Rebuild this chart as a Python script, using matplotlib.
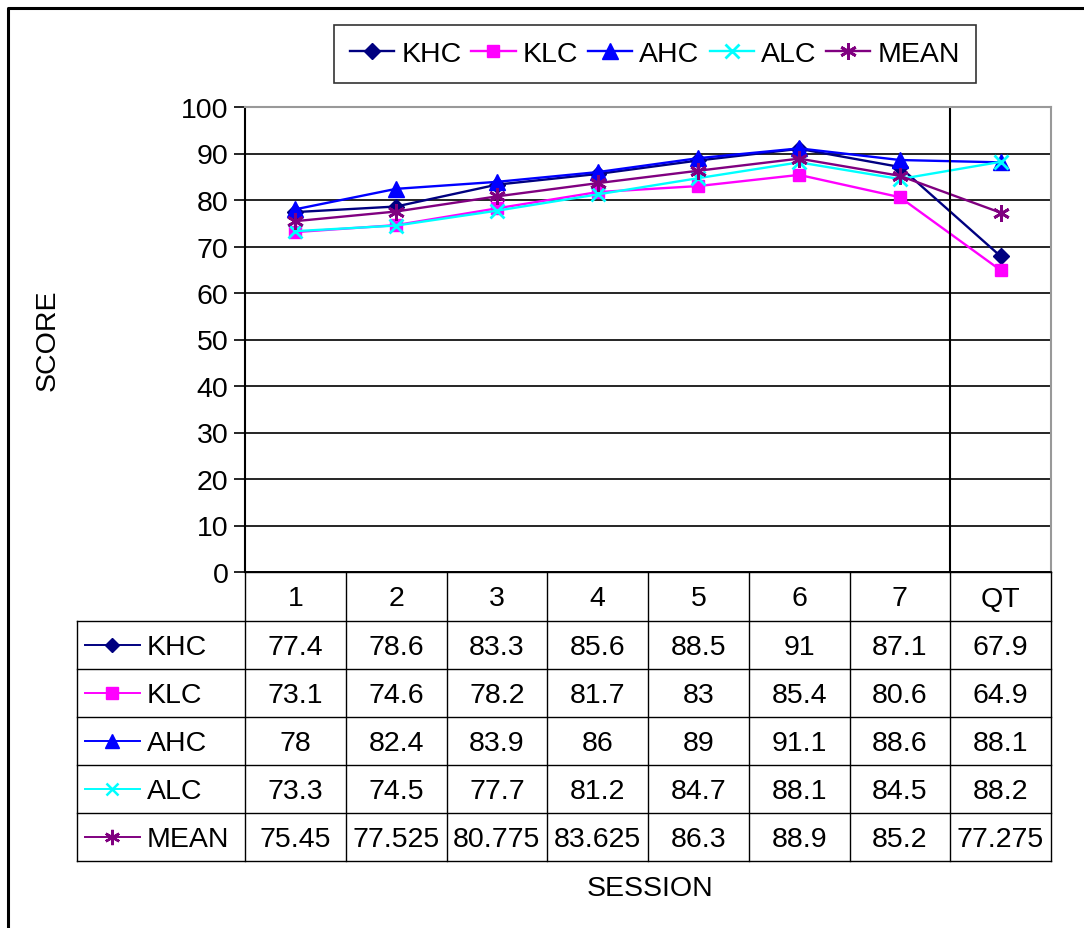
import numpy as np
import matplotlib
matplotlib.use("Agg")
from matplotlib import pyplot as plt
from matplotlib.lines import Line2D

plt.rcParams['font.family'] = ['Liberation Sans', 'DejaVu Sans']

sessions = ['1', '2', '3', '4', '5', '6', '7', 'QT']
khc = [77.4, 78.6, 83.3, 85.6, 88.5, 91, 87.1, 67.9]
klc = [73.1, 74.6, 78.2, 81.7, 83, 85.4, 80.6, 64.9]
ahc = [78, 82.4, 83.9, 86, 89, 91.1, 88.6, 88.1]
alc = [73.3, 74.5, 77.7, 81.2, 84.7, 88.1, 84.5, 88.2]
mean = [75.45, 77.525, 80.775, 83.625, 86.3, 88.9, 85.2, 77.275]
mean_txt = ['75.45', '77.525', '80.775', '83.625', '86.3', '88.9', '85.2', '77.275']

names = ['KHC', 'KLC', 'AHC', 'ALC', 'MEAN']
series = [khc, klc, ahc, alc, mean]
colors = ['#000080', '#FF00FF', '#0000FF', '#00FFFF', '#800080']
markers = ['D', 's', '^', 'x', (6, 2, 0)]
msizes = [8, 9, 11, 10, 12]

W, H = 1084, 929
fs = 20.5
fig = plt.figure(figsize=(W / 100, H / 100), dpi=100)

# layout in pixels
left, right, top, bottom = 245, 1051, 108, 573
row_h = 48
head_h = 49
tab_left = 77

def fx(x):
    return x / W

def fy(y):
    return 1 - y / H

ax = fig.add_axes([fx(left), fy(bottom), fx(right - left), (bottom - top) / H])
x = np.arange(len(sessions))
for s, n, c, m, ms in zip(series, names, colors, markers, msizes):
    ax.plot(x, s, color=c, marker=m, markersize=ms, linewidth=1.7,
            markeredgewidth=2 if m in ('x', (6, 2, 0)) else 1, label=n)

ax.set_xlim(-0.5, len(sessions) - 0.5)
ax.set_ylim(0, 100)
ax.set_yticks(np.arange(0, 101, 10))
ax.tick_params(axis='y', labelsize=fs, length=8, width=1.2, direction='out', pad=4)
ax.set_xticks([])
ax.grid(axis='y', color='black', linewidth=1.2)
ax.axvline(6.5, color='black', linewidth=1.5)
for sp in ['top', 'right']:
    ax.spines[sp].set_color('#999999')
    ax.spines[sp].set_linewidth(1.5)
ax.spines['left'].set_linewidth(1.5)
ax.spines['bottom'].set_linewidth(1.2)

# data table drawn on a full-figure overlay
tab = fig.add_axes([0, 0, 1, 1])
tab.set_xlim(0, W)
tab.set_ylim(H, 0)
tab.axis('off')
col_w = (right - left) / len(sessions)
tab_bottom = bottom + head_h + row_h * len(names)
lw = 1.0
# vertical lines
for i in range(len(sessions) + 1):
    xx = left + i * col_w
    tab.plot([xx, xx], [bottom, tab_bottom], color='black', linewidth=lw)
tab.plot([tab_left, tab_left], [bottom + head_h, tab_bottom], color='black', linewidth=lw)
# horizontal lines
tab.plot([left, right], [bottom, bottom], color='black', linewidth=lw)
for j in range(len(names) + 1):
    yy = bottom + head_h + j * row_h
    tab.plot([tab_left, right], [yy, yy], color='black', linewidth=lw)
# header
for i, s in enumerate(sessions):
    tab.text(left + (i + 0.5) * col_w, bottom + head_h / 2 + 2, s, ha='center', va='center', fontsize=fs)
# rows
for j, (s, n, c, m, ms) in enumerate(zip(series, names, colors, markers, msizes)):
    yc = bottom + head_h + (j + 0.5) * row_h
    tab.plot([85, 140], [yc, yc], color=c, linewidth=1.4)
    tab.plot([112], [yc], color=c, marker=m, markersize=ms - 1,
             markeredgewidth=1.8 if m in ('x', (6, 2, 0)) else 1)
    tab.text(147, yc + 2, n, ha='left', va='center', fontsize=fs)
    vals = mean_txt if n == 'MEAN' else ['%g' % v for v in s]
    for i, v in enumerate(vals):
        tab.text(left + (i + 0.5) * col_w, yc + 2, v, ha='center', va='center', fontsize=fs)

# axis titles
fig.text(fx(48), fy(340), 'SCORE', rotation=90, ha='center', va='center', fontsize=fs)
fig.text(fx(650), fy(889), 'SESSION', ha='center', va='center', fontsize=fs)

# legend
leg = fig.legend(*ax.get_legend_handles_labels(), loc='center', bbox_to_anchor=(fx(655), fy(55)),
                 ncol=5, fontsize=fs, frameon=True, fancybox=False, edgecolor='black',
                 handlelength=1.55, columnspacing=0.35, handletextpad=0.25, borderpad=0.55,
                 borderaxespad=0)
leg.get_frame().set_linewidth(1.2)

# outer chart border (left and top only visible)
fig.add_artist(Line2D([fx(8), fx(8), 1], [0, fy(9), fy(9)], color='black', linewidth=2.2))

fig.savefig('out.png', dpi=100)
